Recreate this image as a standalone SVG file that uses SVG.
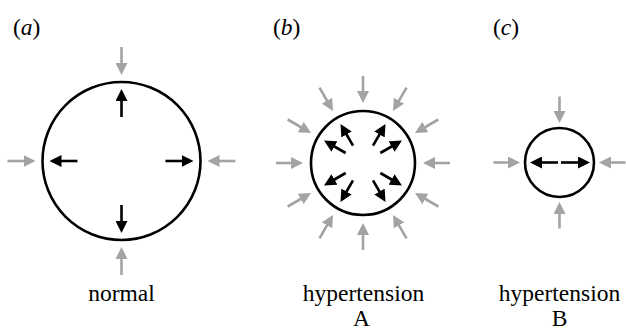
<svg xmlns="http://www.w3.org/2000/svg" width="626" height="331" viewBox="0 0 626 331">
<style>
.bg{fill:#ffffff}
.ring{fill:none;stroke:#000000;stroke-width:2.6}
.g{stroke:#a3a3a3;stroke-width:2.6;fill:none;marker-end:url(#hg)}
.k{stroke:#000000;stroke-width:2.6;fill:none;marker-end:url(#hk)}
.t{font-family:'Liberation Serif','Times New Roman',serif;font-size:23.5px;fill:#000000}
.i{font-style:italic}
</style>
<defs>
<marker id="hg" viewBox="0 0 12 12" markerUnits="userSpaceOnUse" markerWidth="12" markerHeight="12" refX="6" refY="6" orient="auto">
<path d="M0,0 L12,6 L0,12 Z" fill="#a3a3a3"/>
</marker>
<marker id="hk" viewBox="0 0 12 12" markerUnits="userSpaceOnUse" markerWidth="12" markerHeight="12" refX="6" refY="6" orient="auto">
<path d="M0,0 L12,6 L0,12 Z" fill="#000000"/>
</marker>
</defs>
<rect class="bg" x="0" y="0" width="626" height="331"/>

<g id="panel-a">
<text class="t" x="13" y="35">(<tspan class="i">a</tspan>)</text>
<circle class="ring" cx="121.5" cy="161" r="79"/>
<text class="t" x="121.5" y="301" text-anchor="middle">normal</text>
</g>

<g id="panel-b">
<text class="t" x="273" y="35">(<tspan class="i">b</tspan>)</text>
<circle class="ring" cx="363" cy="163" r="52"/>
<text class="t" x="363.5" y="301" text-anchor="middle">hypertension</text>
<text class="t" x="361.5" y="326" text-anchor="middle">A</text>
</g>

<g id="panel-c">
<text class="t" x="493" y="35">(<tspan class="i">c</tspan>)</text>
<circle class="ring" cx="559.5" cy="162.5" r="34.5"/>
<text class="t" x="559.5" y="301" text-anchor="middle">hypertension</text>
<text class="t" x="559.5" y="326" text-anchor="middle">B</text>
</g>

<g id="connectors">
<line class="g" x1="121.5" y1="47" x2="121.5" y2="69"/>
<line class="g" x1="121.5" y1="275" x2="121.5" y2="253"/>
<line class="g" x1="7.5" y1="161" x2="29.5" y2="161"/>
<line class="g" x1="235.5" y1="161" x2="213.5" y2="161"/>
<line class="k" x1="121.5" y1="117" x2="121.5" y2="95"/>
<line class="k" x1="121.5" y1="205" x2="121.5" y2="227"/>
<line class="k" x1="77.5" y1="161" x2="55.5" y2="161"/>
<line class="k" x1="165.5" y1="161" x2="187.5" y2="161"/>
<line class="g" x1="450" y1="163" x2="429" y2="163"/>
<line class="g" x1="438.34" y1="206.5" x2="420.16" y2="196"/>
<line class="g" x1="406.5" y1="238.34" x2="396" y2="220.16"/>
<line class="g" x1="363" y1="250" x2="363" y2="229"/>
<line class="g" x1="319.5" y1="238.34" x2="330" y2="220.16"/>
<line class="g" x1="287.66" y1="206.5" x2="305.84" y2="196"/>
<line class="g" x1="276" y1="163" x2="297" y2="163"/>
<line class="g" x1="287.66" y1="119.5" x2="305.84" y2="130"/>
<line class="g" x1="319.5" y1="87.66" x2="330" y2="105.84"/>
<line class="g" x1="363" y1="76" x2="363" y2="97"/>
<line class="g" x1="406.5" y1="87.66" x2="396" y2="105.84"/>
<line class="g" x1="438.34" y1="119.5" x2="420.16" y2="130"/>
<line class="k" x1="380.32" y1="173" x2="396.77" y2="182.5"/>
<line class="k" x1="373" y1="180.32" x2="382.5" y2="196.77"/>
<line class="k" x1="353" y1="180.32" x2="343.5" y2="196.77"/>
<line class="k" x1="345.68" y1="173" x2="329.23" y2="182.5"/>
<line class="k" x1="345.68" y1="153" x2="329.23" y2="143.5"/>
<line class="k" x1="353" y1="145.68" x2="343.5" y2="129.23"/>
<line class="k" x1="373" y1="145.68" x2="382.5" y2="129.23"/>
<line class="k" x1="380.32" y1="153" x2="396.77" y2="143.5"/>
<line class="g" x1="559.5" y1="96.5" x2="559.5" y2="117"/>
<line class="g" x1="559.5" y1="228.5" x2="559.5" y2="208"/>
<line class="g" x1="493.5" y1="162.5" x2="514" y2="162.5"/>
<line class="g" x1="625.5" y1="162.5" x2="605" y2="162.5"/>
<line class="k" x1="558" y1="162.5" x2="536" y2="162.5"/>
<line class="k" x1="561" y1="162.5" x2="584" y2="162.5"/>
</g>
</svg>
